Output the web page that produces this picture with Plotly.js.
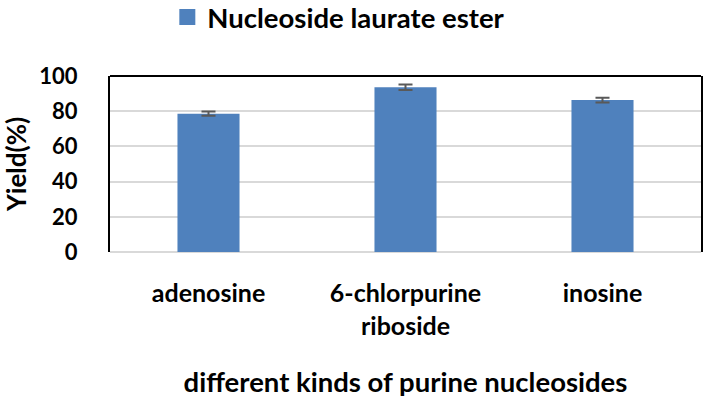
<!DOCTYPE html>
<html>
<head>
<meta charset="utf-8">
<script src="https://cdn.plot.ly/plotly-3.0.1.min.js"></script>
<style>
  html, body { margin: 0; padding: 0; background: #ffffff; }
  #container { width: 705px; height: 402px; }
</style>
</head>
<body>
<div id="container"></div>
<script>
// values
var nucleosides = ['adenosine', '6-chlorpurine<br>riboside', 'inosine'];
var yieldPct = [78.6, 93.6, 86.3];
var yieldErr = [1.2, 1.5, 1.3];
var yTicks = [0, 20, 40, 60, 80, 100];
var seriesName = 'Nucleoside laurate ester';
var barColor = '#4F81BD';

var boldFont = {family: 'Lato, "Liberation Sans", sans-serif', weight: 'bold', color: '#000000'};
function font(size) { return Object.assign({}, boldFont, {size: size}); }

var laurate = {
    x: nucleosides,
    y: yieldPct,
    type: 'bar',
    name: seriesName,
    showlegend: false,
    marker: {color: barColor},
    error_y: {
        type: 'data',
        array: yieldErr,
        visible: true,
        color: '#595959',
        thickness: 2,
        width: 7
    }
};

// legend only entry, so the key square can be drawn bigger than the bar default
var legendKey = {
    x: [null],
    y: [null],
    type: 'scatter',
    mode: 'markers',
    name: seriesName,
    marker: {symbol: 'square', size: 16, color: barColor}
};

var layout = {
    width: 705,
    height: 402,
    margin: {l: 110, r: 4, t: 76, b: 150, autoexpand: false},
    paper_bgcolor: '#ffffff',
    plot_bgcolor: '#ffffff',
    bargap: 0.685,
    showlegend: true,
    legend: {
        orientation: 'h',
        x: 0.097,
        xanchor: 'left',
        y: 1.335,
        yanchor: 'middle',
        font: font(27.5),
        bgcolor: 'rgba(0,0,0,0)'
    },
    xaxis: {
        type: 'category',
        showline: false,
        showgrid: false,
        ticks: '',
        ticklabelstandoff: 24,
        tickfont: font(25),
        title: {
            text: 'different kinds of purine nucleosides',
            font: font(27.5),
            standoff: 34
        }
    },
    yaxis: {
        range: [0, 100],
        tickvals: yTicks,
        ticktext: yTicks.map(String),
        showline: true,
        mirror: true,
        linecolor: '#000000',
        linewidth: 2,
        showgrid: true,
        gridcolor: '#D9D9D9',
        gridwidth: 2,
        zeroline: true,
        zerolinecolor: '#D9D9D9',
        zerolinewidth: 2,
        ticks: '',
        ticklabelstandoff: 26,
        tickfont: font(22),
        title: {
            text: 'Yield(%)',
            font: font(26),
            standoff: 8
        }
    },
    shapes: [
        {
            type: 'line',
            xref: 'paper', yref: 'paper',
            x0: 0, x1: 1, y0: 1, y1: 1,
            line: {color: '#000000', width: 2}
        }
    ]
};

Plotly.newPlot('container', [laurate, legendKey], layout, {displayModeBar: false, staticPlot: true});
</script>
</body>
</html>
